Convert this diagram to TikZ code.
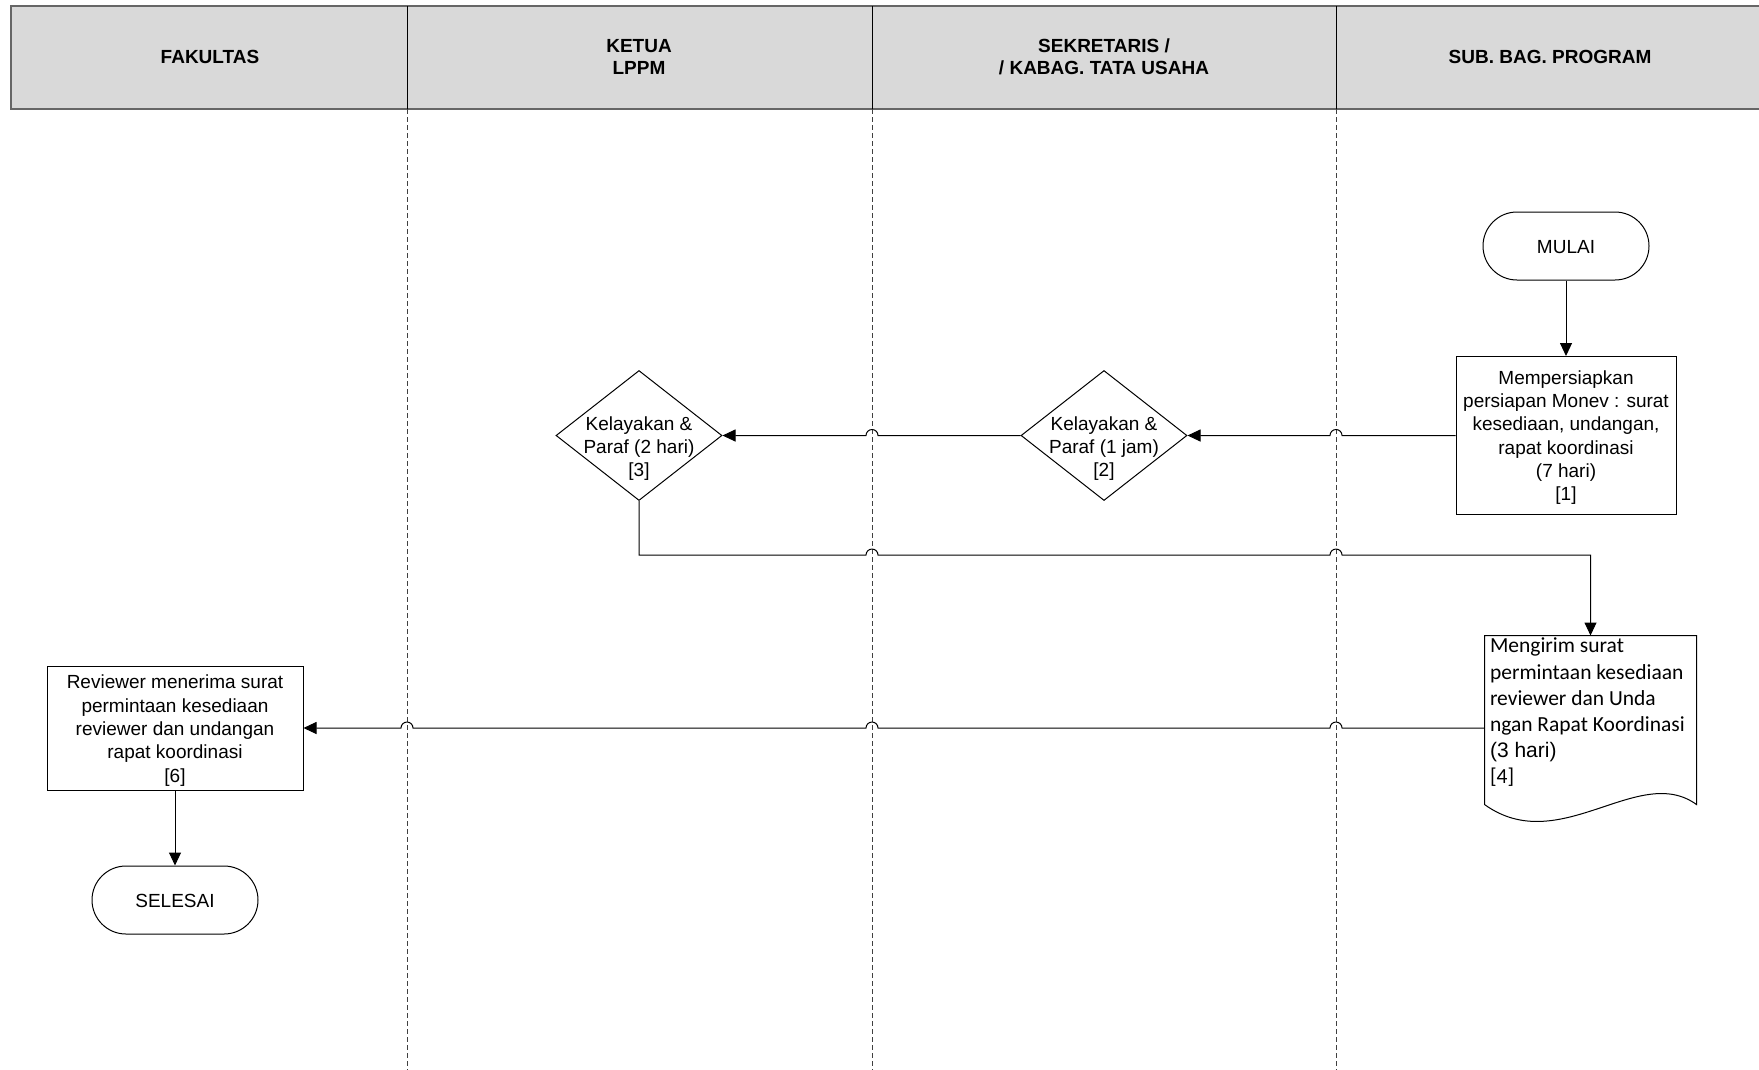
\documentclass[tikz,border=0pt]{standalone}
\usepackage{fontspec}
\setmainfont{Liberation Sans}
\newfontfamily\calfont{Carlito}
\usetikzlibrary{arrows.meta,shapes.geometric,calc}
\begin{document}
\begin{tikzpicture}[x=1pt,y=1pt,line width=1pt,
  txt/.style={font=\fontsize{19}{23.3}\selectfont,align=center},
  hdr/.style={font=\fontsize{19}{22}\selectfont\bfseries,align=center},
  procbox/.style={draw,rectangle,inner sep=0pt},
  term/.style={draw,rectangle,rounded corners=34pt,minimum width=166pt,minimum height=68pt,inner sep=0pt},
  dec/.style={draw,diamond,minimum width=166pt,minimum height=130pt,inner sep=0pt},
  arr/.style={-{Triangle[length=13pt,width=12pt]}},
  lane/.style={dash pattern=on 5pt off 3pt,line width=0.8pt,draw=black!75}]
\useasboundingbox (0,0) rectangle (1759,-1069);
\clip (0,0) rectangle (1759,-1069);
\fill[white] (0,0) rectangle (1759,-1069);
% header
\fill[black!15] (11,-6) rectangle (1775,-109);
\draw[black!60,line width=1.6pt] (1775,-6) -- (11,-6) -- (11,-109) -- (1775,-109);
\coordinate (L1) at (407,-109);
\coordinate (L2) at (872,-109);
\coordinate (L3) at (1336,-109);
\draw (407,-6) -- (L1);
\draw (872,-6) -- (L2);
\draw (1336,-6) -- (L3);
\node[hdr] (h1) at (210,-57) {FAKULTAS};
\node[hdr] (h2) at (639,-57) {KETUA\\LPPM};
\node[hdr] (h3) at (1104,-57) {SEKRETARIS /\\/ KABAG. TATA USAHA};
\node[hdr] (h4) at (1550,-57) {SUB. BAG. PROGRAM};
% lanes
\draw[lane] (L1) -- (407,-1075);
\draw[lane] (L2) -- (872,-1075);
\draw[lane] (L3) -- (1336,-1075);
% nodes
\node[term] (mulai) at (1566,-246) {};
\node[txt] (mulait) at (1566,-247) {MULAI};
\node[procbox,minimum width=220pt,minimum height=158pt] (b1) at (1566,-435.5) {};
\node[txt] (b1t) at (1566,-437.5)
  {Mempersiapkan\\persiapan Monev : surat\\kesediaan, undangan,\\rapat koordinasi\\(7 hari)\\{[1]}};
\node[dec] (d2) at (1104,-435.5) {};
\node[txt] (d2t) at (1104,-448.5) {Kelayakan \&\\Paraf (1 jam)\\{[2]}};
\node[dec] (d3) at (639,-435.5) {};
\node[txt] (d3t) at (639,-448.5) {Kelayakan \&\\Paraf (2 hari)\\{[3]}};
\node[minimum width=211pt,minimum height=168pt,inner sep=0pt] (doc) at (1590.5,-720) {};
\draw (doc.south west) -- (doc.north west) -- (doc.north east) -- (doc.south east)
  .. controls ($(doc.south east)+(-58,42)$) and ($(doc.south west)+(75,-54)$) .. (doc.south west);
\node[anchor=north west,inner sep=2pt,align=left,font=\calfont\fontsize{21.5}{26.2}\selectfont] (doct)
  at ($(doc.north west)+(3,0)$)
  {Mengirim surat\\permintaan kesediaan\\reviewer dan Unda\\ngan Rapat Koordinasi\\{\rmfamily\fontsize{21}{26.2}\selectfont (3 hari)}\\{[4]}};
\node[procbox,minimum width=256pt,minimum height=124pt] (b6) at (175,-728) {};
\node[txt] (b6t) at (175,-730.5)
  {Reviewer menerima surat\\permintaan kesediaan\\reviewer dan undangan\\rapat koordinasi\\{[6]}};
\node[term] (selesai) at (175,-900) {};
\node[txt] (selesait) at (175,-900.5) {SELESAI};
% connectors
\coordinate (rt) at (0,-555);
\draw[arr] (mulai.south) -- (b1.north);
\draw[arr] (b1.west) -- ($(L3 |- b1.west)+(6,0)$) arc[start angle=0,end angle=180,radius=6pt] -- (d2.east);
\draw[arr] (d2.west) -- ($(L2 |- d2.west)+(6,0)$) arc[start angle=0,end angle=180,radius=6pt] -- (d3.east);
\draw[arr] (d3.south) -- (d3.south |- rt)
  -- ($(L2 |- rt)+(-6,0)$) arc[start angle=180,end angle=0,radius=6pt]
  -- ($(L3 |- rt)+(-6,0)$) arc[start angle=180,end angle=0,radius=6pt]
  -- (doc.north |- rt) -- (doc.north);
\draw[arr] (b6.east -| doc.west)
  -- ($(L3 |- b6.east)+(6,0)$) arc[start angle=0,end angle=180,radius=6pt]
  -- ($(L2 |- b6.east)+(6,0)$) arc[start angle=0,end angle=180,radius=6pt]
  -- ($(L1 |- b6.east)+(6,0)$) arc[start angle=0,end angle=180,radius=6pt]
  -- (b6.east);
\draw[arr] (b6.south) -- (selesai.north);
\end{tikzpicture}
\end{document}
